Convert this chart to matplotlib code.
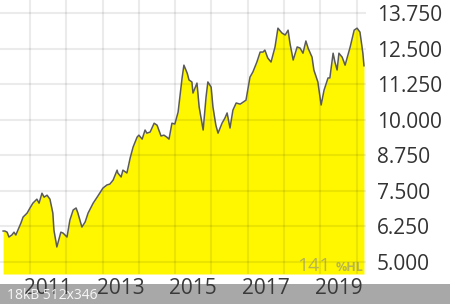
import matplotlib
matplotlib.use("Agg")
import matplotlib.pyplot as plt
from matplotlib.patches import Rectangle

# price history (decimal year, value)
years = [2010.26, 2010.31, 2010.37, 2010.42, 2010.50, 2010.56, 2010.61, 2010.67,
         2010.75, 2010.81, 2010.92, 2011.00, 2011.08, 2011.19, 2011.25, 2011.33,
         2011.39, 2011.47, 2011.55, 2011.63, 2011.66, 2011.74, 2011.77, 2011.85,
         2011.91, 2012.02, 2012.10, 2012.19, 2012.27, 2012.32, 2012.43, 2012.52,
         2012.60, 2012.74, 2012.87, 2013.01, 2013.12, 2013.20, 2013.29, 2013.40,
         2013.42, 2013.51, 2013.56, 2013.67, 2013.76, 2013.84, 2013.95, 2014.00,
         2014.09, 2014.17, 2014.22, 2014.31, 2014.42, 2014.50, 2014.61, 2014.69,
         2014.77, 2014.83, 2014.91, 2014.99, 2015.08, 2015.19, 2015.24, 2015.33,
         2015.38, 2015.46, 2015.49, 2015.60, 2015.66, 2015.77, 2015.85, 2015.90,
         2015.99, 2016.04, 2016.12, 2016.18, 2016.29, 2016.37, 2016.43, 2016.51,
         2016.59, 2016.68, 2016.79, 2016.87, 2016.95, 2017.06, 2017.14, 2017.25,
         2017.34, 2017.42, 2017.47, 2017.55, 2017.64, 2017.75, 2017.83, 2017.94,
         2018.03, 2018.11, 2018.16, 2018.25, 2018.36, 2018.44, 2018.52, 2018.60,
         2018.66, 2018.77, 2018.82, 2018.93, 2019.02, 2019.10, 2019.21, 2019.26,
         2019.35, 2019.40, 2019.46, 2019.51, 2019.60, 2019.68, 2019.82, 2019.93,
         2020.01, 2020.09, 2020.17, 2020.20]
price = [6.09, 6.09, 6.05, 5.88, 5.95, 6.05, 5.95, 6.13,
         6.37, 6.58, 6.72, 6.90, 7.07, 7.21, 7.07, 7.42,
         7.28, 7.35, 7.21, 6.72, 6.12, 5.53, 5.67, 6.05,
         6.02, 5.88, 6.48, 6.83, 6.90, 6.72, 6.23, 6.41,
         6.72, 7.07, 7.32, 7.60, 7.71, 7.74, 7.88, 8.23,
         8.13, 7.99, 8.23, 8.13, 8.66, 9.04, 9.39, 9.46,
         9.32, 9.64, 9.53, 9.57, 9.88, 9.81, 9.43, 9.46,
         9.39, 9.32, 9.88, 9.85, 10.27, 11.47, 11.92, 11.64,
         11.40, 11.33, 10.94, 11.29, 10.45, 9.64, 10.80, 11.33,
         11.15, 10.45, 9.81, 9.53, 9.88, 10.06, 10.24, 9.71,
         10.34, 10.59, 10.55, 10.62, 10.69, 11.50, 11.68, 12.03,
         12.38, 12.38, 12.45, 12.17, 12.03, 12.56, 13.22, 13.05,
         12.98, 13.15, 12.70, 12.10, 12.56, 12.52, 12.34, 12.77,
         12.52, 12.20, 11.75, 11.33, 10.52, 11.04, 11.47, 11.47,
         12.34, 12.03, 11.75, 12.34, 12.20, 11.92, 12.56, 13.15,
         13.22, 13.08, 12.34, 11.90]

grid_years = [2011, 2012, 2013, 2014, 2015, 2016, 2017, 2018, 2019, 2020]
label_years = [2011, 2013, 2015, 2017, 2019]
y_ticks = [5.0, 6.25, 7.5, 8.75, 10.0, 11.25, 12.5, 13.75]

plt.rcParams["font.family"] = ["Open Sans", "DejaVu Sans"]

fig = plt.figure(figsize=(4.5, 3.04), dpi=100)
ax = fig.add_axes([0, 30 / 304, 366 / 450, 274 / 304])

y_bottom, y_top = 4.58, 14.21
ax.fill_between(years, price, y_bottom, color="#fff700", linewidth=0, zorder=1)
ax.plot(years, price, color="#5a5a5a", linewidth=1.1, zorder=3)

ax.set_xlim(2010.174, 2020.256)
ax.set_ylim(y_bottom, y_top)

# grid on year boundaries, labels in the middle of the year
ax.set_xticks(grid_years)
ax.set_xticklabels([])
ax.set_xticks([y + 0.5 for y in label_years], [str(y) for y in label_years], minor=True)
ax.set_yticks(y_ticks, [f"{v:.3f}" for v in y_ticks])
ax.yaxis.tick_right()

ax.tick_params(axis="both", which="both", length=0)
ax.tick_params(axis="y", pad=8, labelsize=15, labelcolor="#333333")
ax.tick_params(axis="x", which="minor", pad=3, labelsize=15, labelcolor="#3a3a3a")

ax.grid(True, which="major", color="black", alpha=0.08, linewidth=1.5, zorder=2)
ax.set_axisbelow(False)
for s in ax.spines.values():
    s.set_visible(False)

# watermark
fig.text(331 / 450, (304 - 271) / 304, "141", fontsize=14, color="#888888",
         alpha=0.6, ha="right", va="baseline")
fig.text(363 / 450, (304 - 271) / 304, "%HL", fontsize=9, fontweight="bold",
         color="#888888", alpha=0.6, ha="right", va="baseline")

# thumbnail footer bar
fig.patches.append(Rectangle((0, 0), 1, 20 / 304, transform=fig.transFigure,
                             facecolor="#a8a8a8", edgecolor="none", zorder=-1))
fig.text(7 / 450, 5 / 304, "18kB 512x346", fontsize=10, color="white",
         alpha=0.9, ha="left", va="baseline", zorder=10)

fig.savefig("out.png", dpi=100)
